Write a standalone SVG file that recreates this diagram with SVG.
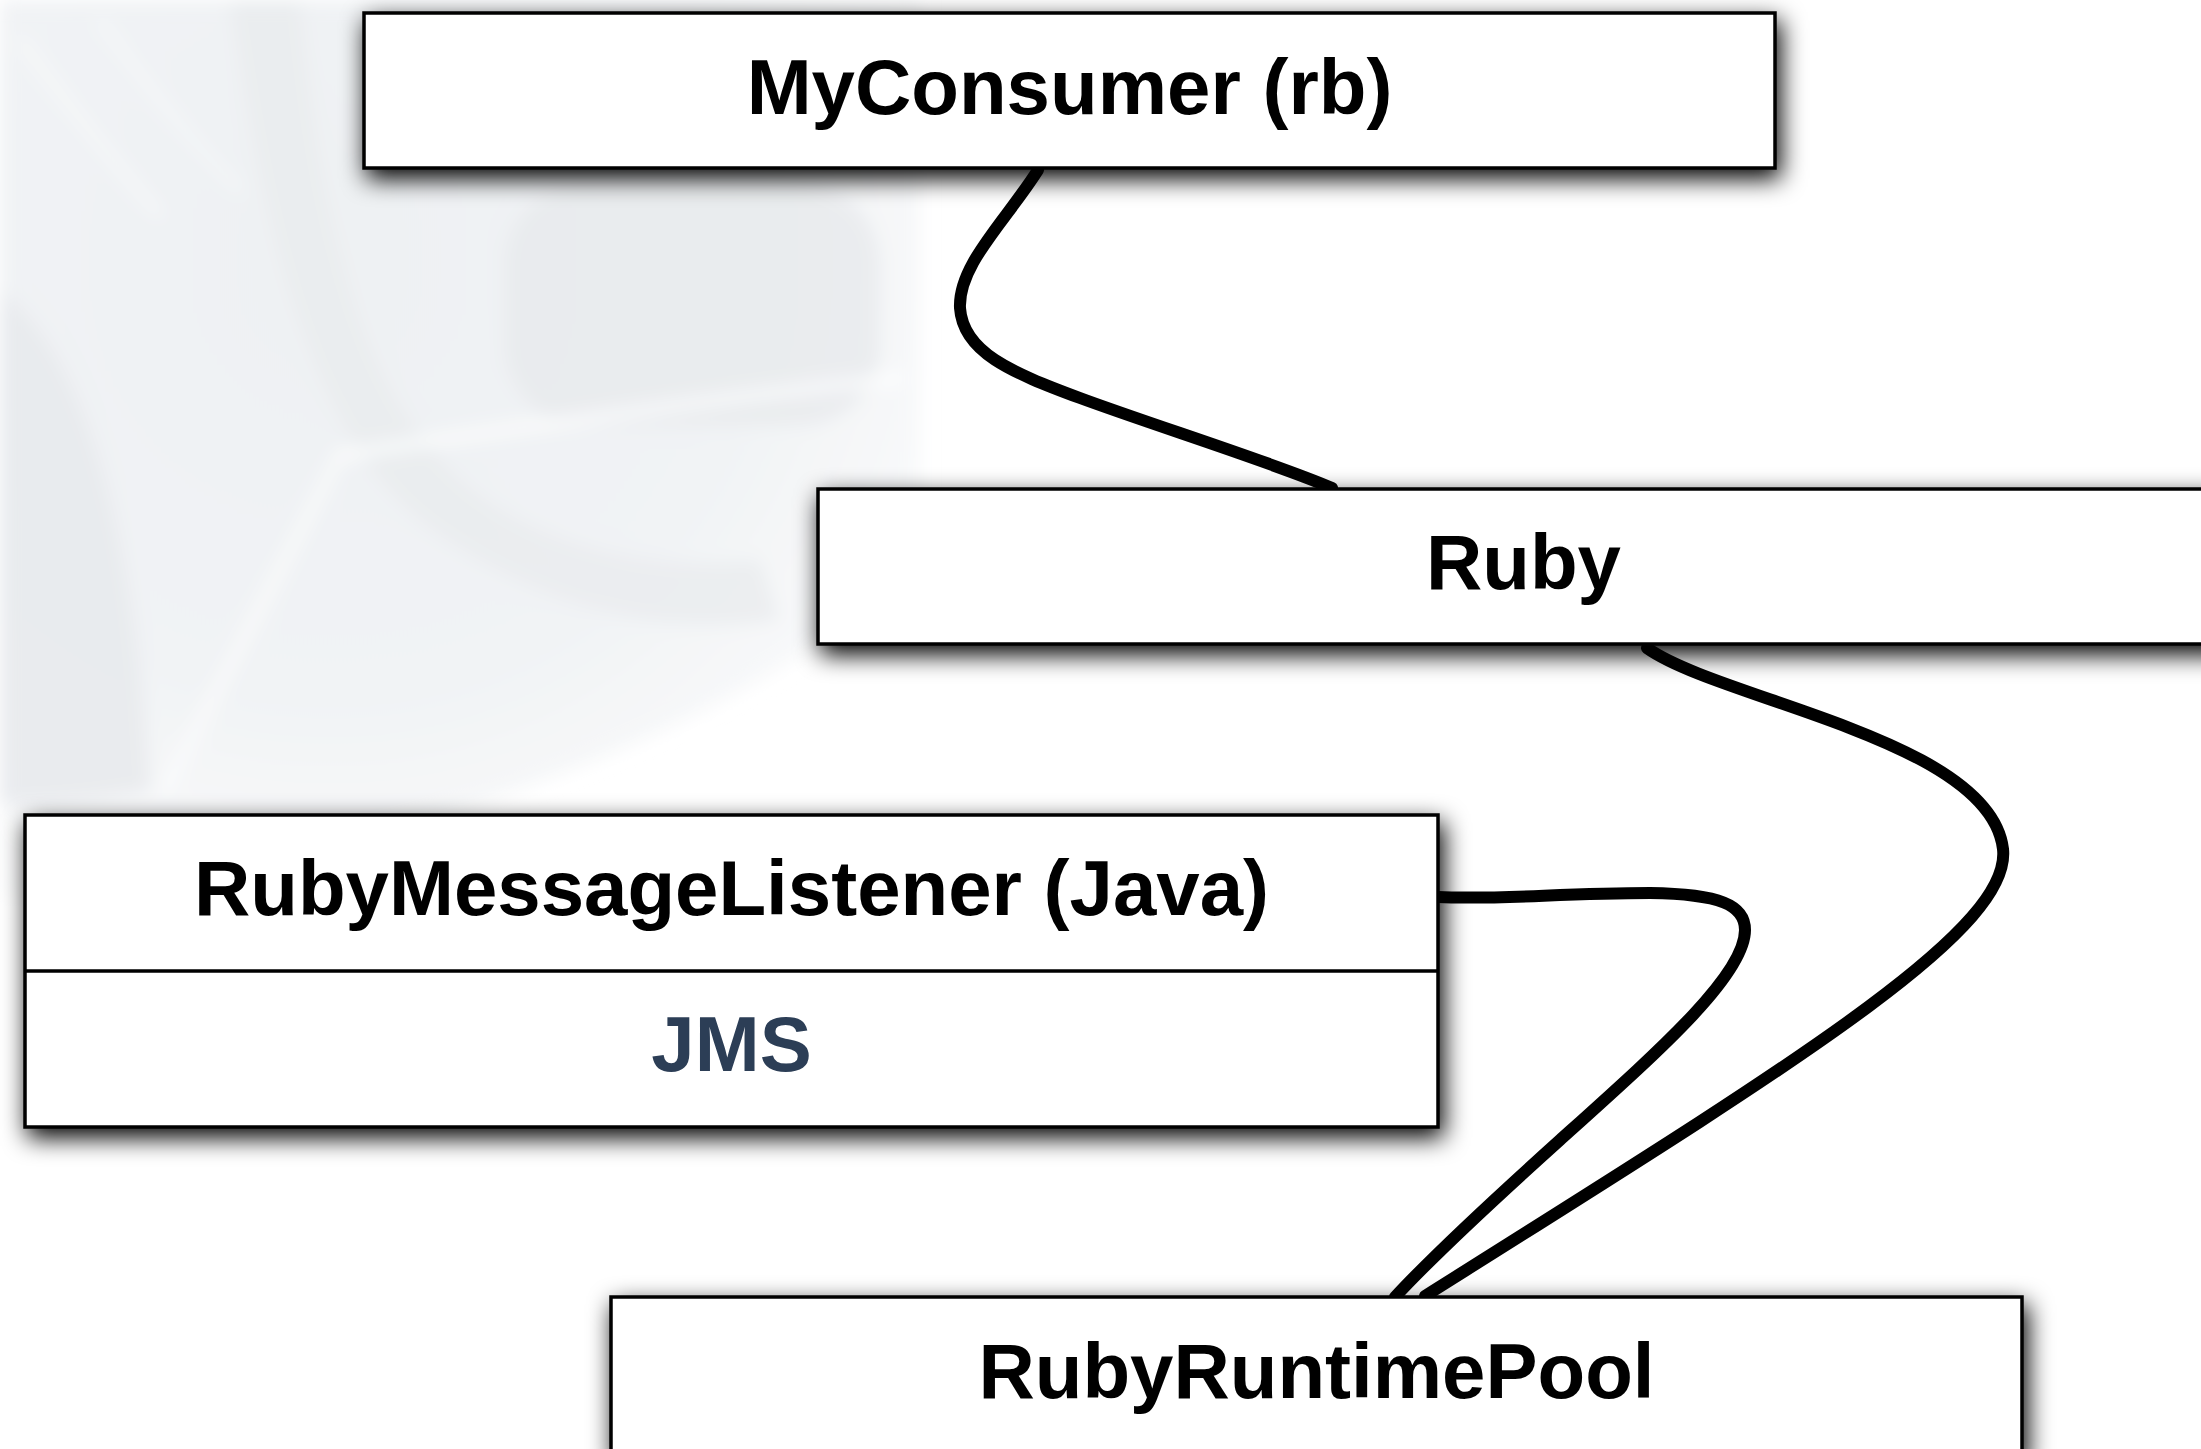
<svg xmlns="http://www.w3.org/2000/svg" width="2201" height="1449" viewBox="0 0 2201 1449">
  <defs>
    <filter id="shadow" x="-5%" y="-25%" width="115%" height="190%" color-interpolation-filters="sRGB">
      <feGaussianBlur in="SourceAlpha" stdDeviation="12" result="blur"/>
      <feOffset in="blur" dx="4" dy="9" result="off"/>
      <feMerge>
        <feMergeNode in="off"/>
        <feMergeNode in="SourceGraphic"/>
      </feMerge>
    </filter>
    <filter id="soft" x="-20%" y="-20%" width="140%" height="140%">
      <feGaussianBlur stdDeviation="9"/>
    </filter>
    <radialGradient id="haze" cx="330" cy="260" r="800" gradientUnits="userSpaceOnUse">
      <stop offset="0" stop-color="#eef1f3"/>
      <stop offset="0.55" stop-color="#f1f3f5"/>
      <stop offset="1" stop-color="#ffffff"/>
    </radialGradient>
    <style>
      .box { fill: #ffffff; stroke: #000000; stroke-width: 3.5; }
      .divider { stroke: #000000; stroke-width: 3.5; }
      .label { font-family: "Liberation Sans", Arial, sans-serif; font-weight: bold; font-size: 78px; fill: #000000; text-anchor: middle; }
      .attr { fill: #2c3e56; }
      .link { fill: none; stroke: #000000; stroke-width: 12; stroke-linecap: round; }
      .streak { fill: none; stroke: #ffffff; stroke-linecap: round; }
    </style>
  </defs>

  <rect width="2201" height="1449" fill="#ffffff"/>

  <!-- faint backdrop artwork -->
  <g id="backdrop" filter="url(#soft)">
    <path d="M0,0 H920 V560 C760,720 420,860 0,900 Z" fill="url(#haze)"/>
    <!-- ring band -->
    <path d="M230,0 C260,200 300,420 420,520 C520,600 660,640 780,620 L760,560 C640,575 520,540 450,470 C350,370 320,200 300,0 Z" fill="#e8ebee" opacity="0.75"/>
    <!-- inner darker block -->
    <rect x="505" y="185" width="375" height="240" rx="80" fill="#e5e8eb" opacity="0.7"/>
    <!-- left crescent -->
    <path d="M0,290 C90,360 135,540 150,790 C100,800 40,805 0,805 Z" fill="#e6e9ec" opacity="0.85"/>
    <!-- light streaks -->
    <path class="streak" d="M340,455 L165,790" stroke-width="7" opacity="0.9"/>
    <path class="streak" d="M340,455 C500,430 700,400 900,378" stroke-width="9" opacity="0.9"/>
    <path class="streak" d="M20,40 C80,120 120,170 160,215" stroke-width="5" opacity="0.8"/>
    <path class="streak" d="M100,20 C150,90 190,140 240,190" stroke-width="4" opacity="0.8"/>
  </g>

  <!-- connectors -->
  <g id="connectors">
    <path class="link" d="M1038,170 C1005,222 958,265 960,308 C963,352 1010,372 1080,398 S1280,465 1332,488"/>
    <path class="link" d="M1647,648 C1720,700 1990,740 2003,849 C2012,930 1800,1060 1425,1296"/>
    <path class="link" d="M1438,897 C1500,900 1560,893 1650,893 C1720,894 1745,905 1745,930 C1745,975 1660,1050 1560,1140 S1420,1270 1395,1297"/>
  </g>

  <!-- MyConsumer -->
  <g id="node-myconsumer" filter="url(#shadow)">
    <rect class="box" x="364" y="13" width="1411" height="155"/>
    <text class="label" x="1069.5" y="114">MyConsumer (rb)</text>
  </g>

  <!-- Ruby -->
  <g id="node-ruby" filter="url(#shadow)">
    <rect class="box" x="818" y="489" width="1411" height="155"/>
    <text class="label" x="1523.5" y="589">Ruby</text>
  </g>

  <!-- RubyMessageListener with JMS compartment -->
  <g id="node-listener" filter="url(#shadow)">
    <rect class="box" x="25" y="815" width="1413" height="312"/>
    <line class="divider" x1="25" y1="971" x2="1438" y2="971"/>
    <text class="label" x="731.5" y="915">RubyMessageListener (Java)</text>
    <text class="label attr" x="731.5" y="1071">JMS</text>
  </g>

  <!-- RubyRuntimePool -->
  <g id="node-pool" filter="url(#shadow)">
    <rect class="box" x="611" y="1297" width="1411" height="160"/>
    <text class="label" x="1316.5" y="1398">RubyRuntimePool</text>
  </g>
</svg>
